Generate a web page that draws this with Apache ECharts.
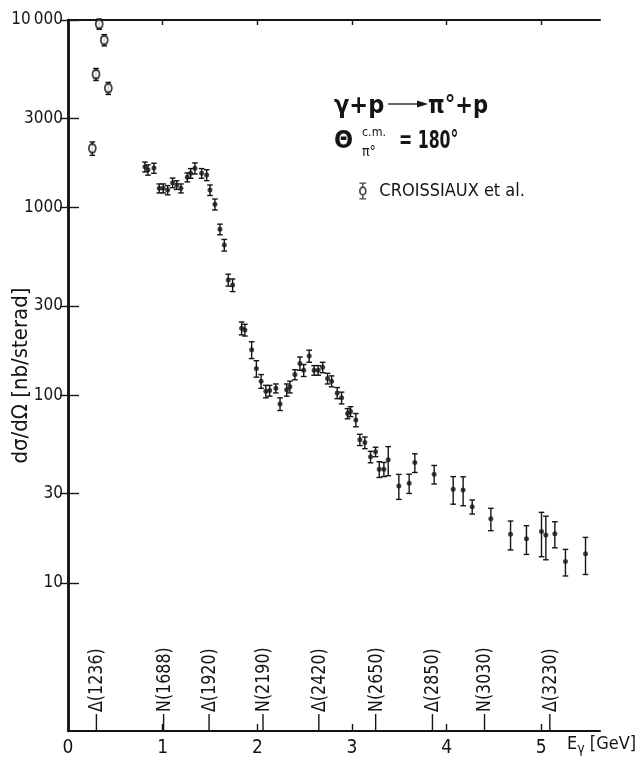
<!DOCTYPE html>
<html>
<head>
<meta charset="utf-8">
<script src="https://cdn.jsdelivr.net/npm/echarts@6/dist/echarts.min.js"></script>
<style>
  html, body { margin: 0; padding: 0; background: #fff; }
  #chart { width: 637px; height: 760px; }
</style>
</head>
<body>
<div id="chart"></div>
<script>
const FONT = '"DejaVu Sans Condensed", "DejaVu Sans", sans-serif';
const INK = '#141414';

// Croissiaux et al. (open symbols): photon energy [GeV], dσ/dΩ [nb/sterad], error
const croisE   = [0.257, 0.296, 0.330, 0.383, 0.426];
const croisV   = [2070, 5140, 9520, 7820, 4330];
const croisErr = [170, 380, 600, 540, 320];

// Present measurement (filled symbols)
const dataE = [0.813, 0.845, 0.908, 0.964, 1.006, 1.053, 1.105, 1.148, 1.193, 1.260,
               1.296, 1.341, 1.412, 1.465, 1.500, 1.552, 1.605, 1.651, 1.693, 1.739,
               1.834, 1.869, 1.940, 1.990, 2.040, 2.090, 2.130, 2.196, 2.240, 2.310,
               2.344, 2.397, 2.450, 2.490, 2.548, 2.600, 2.643, 2.690, 2.742, 2.785,
               2.844, 2.890, 2.953, 2.985, 3.041, 3.083, 3.136, 3.196, 3.249, 3.288,
               3.337, 3.383, 3.495, 3.604, 3.664, 3.868, 4.069, 4.174, 4.270, 4.467,
               4.675, 4.843, 5.002, 5.048, 5.143, 5.255, 5.467];
const dataV = [1650, 1590, 1625, 1268, 1268, 1241, 1358, 1321, 1268, 1452,
               1525, 1622, 1525, 1493, 1241, 1042, 767, 632, 412, 387,
               228, 223, 175, 139, 119, 105, 106, 109, 90, 107,
               111, 129, 148, 136, 162, 136, 136, 141, 123, 119,
               103, 97, 80, 82, 74, 58, 56, 47, 50, 40.4,
               40.4, 45.3, 32.9, 34, 43.8, 38, 31.6, 31.3, 25.5, 22,
               18.2, 17.2, 18.8, 18.0, 18.3, 13.0, 14.3];
const dataErr = [100, 100, 100, 70, 70, 70, 80, 70, 70, 80,
                 90, 110, 90, 100, 80, 70, 50, 45, 30, 30,
                 18, 16, 18, 14, 10, 8, 7, 6, 7, 8,
                 8, 8, 12, 10, 12, 8, 8, 9, 8, 8,
                 7, 7, 5, 5, 6, 4, 4, 3.3, 2.9, 3.9,
                 3.5, 8, 5, 4, 5, 4.3, 5.3, 5.5, 2.2, 3,
                 3.2, 3, 5, 4.7, 2.9, 2.1, 3.2];

// Baryon resonances marked along the energy axis
const resE = [0.30, 1.01, 1.49, 2.06, 2.65, 3.25, 3.85, 4.40, 5.09];
const resNames = ['Δ(1236)', 'N(1688)', 'Δ(1920)', 'N(2190)', 'Δ(2420)',
                  'N(2650)', 'Δ(2850)', 'N(3030)', 'Δ(3230)'];

// Axis ticks
const xTicks = [0, 1, 2, 3, 4, 5];
const yTicks = [10, 30, 100, 300, 1000, 3000, 10000];
const X_MAX = 5.62;
const Y_MIN = 1.627;
const Y_MAX = 10000;

const chart = echarts.init(document.getElementById('chart'), null, { renderer: 'canvas' });

function errorBars(E, V, Err) {
  return E.map((e, i) => [e, V[i] - Err[i], V[i] + Err[i]]);
}

function renderErrorBar(params, api) {
  const x = api.value(0);
  const lo = api.coord([x, api.value(1)]);
  const hi = api.coord([x, api.value(2)]);
  const hw = 2.8;
  const st = { stroke: INK, lineWidth: 1.4 };
  return {
    type: 'group',
    children: [
      { type: 'line', shape: { x1: lo[0], y1: lo[1], x2: hi[0], y2: hi[1] }, style: st },
      { type: 'line', shape: { x1: lo[0] - hw, y1: lo[1], x2: lo[0] + hw, y2: lo[1] }, style: st },
      { type: 'line', shape: { x1: hi[0] - hw, y1: hi[1], x2: hi[0] + hw, y2: hi[1] }, style: st }
    ]
  };
}

function renderResonance(params, api) {
  const cs = params.coordSys;
  const bottom = cs.y + cs.height;
  const x = api.coord([api.value(0), 10])[0];
  const name = resNames[api.value(1)];
  return {
    type: 'group',
    children: [
      { type: 'line', shape: { x1: x, y1: bottom, x2: x, y2: bottom - 17 },
        style: { stroke: INK, lineWidth: 1.4 } },
      { type: 'text', x: x + 1, y: bottom - 19, rotation: Math.PI / 2, scaleX: 0.93,
        style: { text: name, fill: INK, font: '19px ' + FONT,
                 align: 'left', verticalAlign: 'middle' } }
    ]
  };
}

const yLabel = v => {
  const r = Math.round(v);
  return r === 10000 ? '10\u2009000' : String(r);
};

const legendIcon = 'path://M1,0H9V1.6H5.8V4.6H4.2V1.6H1Z' +
  'M0.5,10A4.5,5.5 0 1 1 9.5,10A4.5,5.5 0 1 1 0.5,10Z' +
  'M2.5,10A2.5,3.5 0 1 0 7.5,10A2.5,3.5 0 1 0 2.5,10Z' +
  'M4.2,15.4H5.8V18.4H9V20H1V18.4H4.2Z';

const option = {
  backgroundColor: '#fff',
  animation: false,
  grid: { left: 68, right: 37, top: 20, bottom: 29, containLabel: false, outerBoundsMode: 'none' },
  legend: {
    left: 354, top: 177,
    itemWidth: 9, itemHeight: 17, itemGap: 0,
    textStyle: { fontFamily: FONT, fontSize: 18, color: INK, padding: [0, 0, 0, 7] },
    data: [{ name: 'CROISSIAUX et al.', icon: legendIcon,
             itemStyle: { color: INK, borderWidth: 0 } }]
  },
  xAxis: [
    {
      type: 'value', position: 'bottom', min: 0, max: X_MAX,
      name: '{e|E}{g|γ}{e| [GeV]}', nameLocation: 'end', nameGap: -33, nameMoveOverlap: false,
      nameTextStyle: {
        fontFamily: FONT, color: INK, padding: [26, 0, 0, 0],
        rich: {
          e: { fontFamily: FONT, fontSize: 18, color: INK, verticalAlign: 'middle', lineHeight: 24 },
          g: { fontFamily: FONT, fontSize: 14, color: INK, verticalAlign: 'bottom', lineHeight: 24, padding: [8, 0, 0, 0] }
        }
      },
      axisLine: { lineStyle: { color: INK, width: 2 } },
      axisTick: { inside: true, length: 7, customValues: [1, 2, 3, 4, 5], lineStyle: { color: INK, width: 1.4 } },
      axisLabel: { customValues: xTicks, fontFamily: FONT, fontSize: 19, color: INK, margin: 8 },
      splitLine: { show: false }
    },
    {
      type: 'value', position: 'top', min: 0, max: X_MAX,
      axisLine: { lineStyle: { color: INK, width: 2 } },
      axisTick: { inside: true, length: 5, customValues: [1, 2, 3, 4, 5], lineStyle: { color: INK, width: 1.4 } },
      axisLabel: { show: false },
      splitLine: { show: false }
    }
  ],
  yAxis: [
    {
      type: 'log', logBase: 10, position: 'left', min: Y_MIN, max: Y_MAX,
      name: 'dσ/dΩ [nb/sterad]', nameLocation: 'middle', nameGap: 36, nameMoveOverlap: false,
      nameTextStyle: { fontFamily: FONT, fontSize: 22, color: INK },
      axisLine: { lineStyle: { color: INK, width: 2.5 } },
      axisTick: { inside: true, length: 11, customValues: yTicks, lineStyle: { color: INK, width: 1.4 } },
      axisLabel: { customValues: yTicks, formatter: yLabel, fontFamily: FONT, fontSize: 17, color: INK, margin: 5 },
      minorTick: { show: false },
      splitLine: { show: false }
    },
    {
      type: 'log', logBase: 10, position: 'right', min: Y_MIN, max: Y_MAX,
      axisLine: { lineStyle: { color: INK, width: 2.5 } },
      axisTick: { inside: true, length: 8, customValues: yTicks, lineStyle: { color: INK, width: 1.4 } },
      axisLabel: { show: false },
      splitLine: { show: false }
    }
  ],
  series: [
    {
      name: 'errors', type: 'custom', renderItem: renderErrorBar, z: 2,
      data: errorBars(dataE, dataV, dataErr), silent: true
    },
    {
      name: 'data', type: 'scatter', z: 3, symbol: 'circle', symbolSize: 5,
      itemStyle: { color: INK },
      data: dataE.map((e, i) => [e, dataV[i]])
    },
    {
      name: 'croisErrors', type: 'custom', renderItem: renderErrorBar, z: 2,
      data: errorBars(croisE, croisV, croisErr), silent: true
    },
    {
      name: 'CROISSIAUX et al.', type: 'scatter', z: 4, symbol: 'circle', symbolSize: [7, 9],
      itemStyle: { color: '#fff', borderColor: INK, borderWidth: 2 },
      data: croisE.map((e, i) => [e, croisV[i]])
    },
    {
      name: 'resonances', type: 'custom', renderItem: renderResonance, z: 5,
      data: resE.map((e, i) => [e, i]), silent: true
    }
  ],
  graphic: [
    { type: 'text', x: 334, y: 106,
      style: { text: 'γ+p', font: 'bold 25px ' + FONT, fill: INK, verticalAlign: 'middle' } },
    { type: 'line', shape: { x1: 388, y1: 104, x2: 420, y2: 104 },
      style: { stroke: INK, lineWidth: 1.3 } },
    { type: 'polygon', shape: { points: [[417, 100.5], [428, 104], [417, 107.5]] },
      style: { fill: INK } },
    { type: 'text', x: 428, y: 106, scaleX: 0.94,
      style: { text: 'π°+p', font: 'bold 25px ' + FONT, fill: INK, verticalAlign: 'middle' } },
    { type: 'text', x: 334, y: 141,
      style: { text: 'Θ', font: 'bold 25px ' + FONT, fill: INK, verticalAlign: 'middle' } },
    { type: 'text', x: 362, y: 133, scaleX: 0.95,
      style: { text: 'c.m.', font: '13px ' + FONT, fill: INK, verticalAlign: 'middle' } },
    { type: 'text', x: 362, y: 152,
      style: { text: 'π°', font: '14px ' + FONT, fill: INK, verticalAlign: 'middle' } },
    { type: 'text', x: 399, y: 141, scaleX: 0.7,
      style: { text: '= 180°', font: 'bold 25px ' + FONT, fill: INK, verticalAlign: 'middle' } }
  ]
};

chart.setOption(option);
</script>
</body>
</html>
